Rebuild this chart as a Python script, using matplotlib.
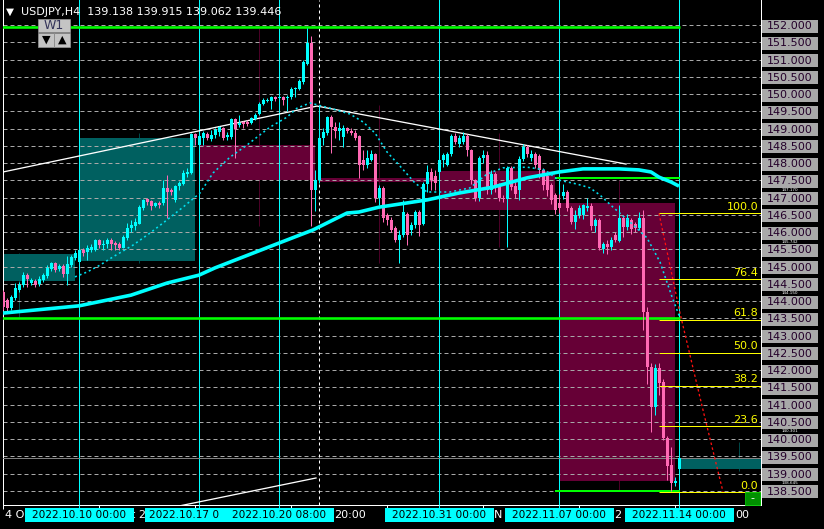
import matplotlib
matplotlib.use('Agg')
import matplotlib.pyplot as plt
from matplotlib.patches import Rectangle
import numpy as np

plt.rcParams['font.family'] = ['DejaVu Sans']
plt.rcParams['lines.scale_dashes'] = False

# ---------------- data ----------------
symbol = 'USDJPY,H4'
first_bar = -19  # bar index of the left-most candle (bar 0 = 2022.10.10 00:00)

bar_open = [
    144.26, 144.03, 143.80, 144.09, 144.32, 144.46, 144.75, 144.52, 144.58, 144.49,
    144.61, 144.73, 144.93, 145.10, 144.93, 145.01, 144.78, 145.04, 145.25, 145.13,
    145.48, 145.42, 145.48, 145.48, 145.77, 145.62, 145.65, 145.77, 145.68, 145.65,
    145.54, 145.83, 146.12, 146.17, 146.23, 146.70, 146.96, 146.90, 146.75, 146.84,
    146.84, 147.28, 147.22, 146.93, 147.33, 147.39, 147.68, 147.71, 148.84, 148.52,
    148.72, 148.84, 148.70, 148.81, 148.90, 149.01, 148.75, 148.75, 149.28, 149.10,
    149.19, 149.19, 149.16, 149.28, 149.42, 149.71, 149.80, 149.80, 149.91, 149.88,
    149.91, 149.88, 149.91, 150.15, 150.15, 150.35, 150.87, 151.48, 147.22, 147.51,
    148.72, 148.87, 149.33, 149.04, 148.93, 148.75, 149.01, 148.93, 148.87, 148.78,
    148.09, 147.94, 148.09, 148.26, 146.99, 147.28, 146.49, 146.35, 146.12, 145.77,
    145.91, 146.52, 146.06, 146.20, 146.58, 146.23, 147.39, 147.74, 147.62, 147.74,
    148.09, 147.94, 148.26, 148.78, 148.55, 148.61, 148.78, 148.38, 147.51, 146.99,
    148.14, 148.23, 147.22, 147.68, 147.36, 146.99, 146.96, 147.86, 147.33, 147.22,
    148.12, 148.46, 148.14, 148.26, 148.20, 147.80, 147.62, 147.36, 147.07, 146.83,
    147.04, 147.16, 146.70, 146.29, 146.49, 146.49, 146.70, 146.75, 146.17, 146.35,
    145.51, 145.65, 145.57, 145.91, 145.74, 146.41, 146.14, 146.35, 146.23, 146.12,
    146.41, 143.68, 142.09, 140.93, 142.06, 141.65, 140.03, 139.25, 138.73, 139.138,
]
bar_high = [
    144.32, 144.09, 144.17, 144.52, 144.55, 144.84, 144.81, 144.67, 144.64, 144.72,
    144.81, 145.04, 145.13, 145.13, 145.07, 145.07, 145.30, 145.33, 145.48, 145.54,
    145.54, 145.62, 145.65, 145.80, 145.80, 145.77, 145.83, 145.83, 145.74, 145.71,
    145.91, 146.26, 146.35, 146.41, 146.78, 146.96, 146.99, 146.93, 146.87, 146.90,
    147.51, 147.65, 147.28, 147.36, 147.48, 147.80, 147.86, 148.87, 148.87, 148.87,
    148.93, 148.90, 148.96, 149.01, 149.07, 149.04, 148.90, 149.30, 149.30, 149.39,
    149.22, 149.25, 149.33, 149.45, 149.77, 149.88, 149.88, 149.94, 149.94, 149.97,
    149.94, 149.97, 150.20, 150.20, 150.44, 150.99, 151.91, 151.68, 147.80, 149.68,
    149.01, 149.36, 149.39, 149.19, 149.19, 149.10, 149.04, 149.01, 148.96, 148.81,
    148.38, 148.38, 148.38, 148.29, 147.36, 147.33, 146.55, 146.43, 146.17, 146.06,
    146.93, 146.58, 146.29, 146.64, 146.64, 147.45, 147.94, 147.86, 147.80, 148.12,
    148.29, 148.32, 148.84, 148.87, 148.81, 148.90, 148.84, 148.41, 147.54, 148.20,
    148.38, 148.35, 147.80, 147.74, 147.42, 147.07, 147.91, 147.91, 147.45, 148.20,
    148.55, 148.52, 148.38, 148.32, 148.26, 147.86, 147.68, 147.42, 147.13, 147.10,
    147.39, 147.22, 146.75, 146.64, 146.78, 146.81, 146.99, 146.84, 146.41, 146.41,
    145.71, 145.77, 145.86, 146.00, 146.78, 146.49, 146.52, 146.41, 146.29, 146.58,
    146.64, 143.83, 142.20, 142.18, 142.20, 141.74, 140.09, 139.77, 138.90, 139.915,
]
bar_low = [
    143.74, 143.71, 143.74, 144.03, 144.26, 144.41, 144.41, 144.46, 144.41, 144.43,
    144.55, 144.67, 144.87, 144.84, 144.87, 144.70, 144.46, 144.99, 145.19, 145.10,
    145.30, 145.19, 145.42, 145.45, 145.54, 145.48, 145.54, 145.48, 145.48, 145.48,
    145.54, 145.77, 146.00, 146.06, 146.23, 146.64, 146.78, 146.64, 146.72, 146.70,
    146.78, 146.41, 147.07, 146.87, 147.22, 147.36, 147.59, 147.68, 148.52, 148.49,
    148.52, 148.67, 148.64, 148.72, 148.78, 148.67, 148.67, 148.70, 148.14, 149.04,
    149.01, 149.07, 149.13, 149.25, 149.39, 149.68, 149.77, 149.57, 149.80, 149.83,
    149.68, 149.51, 149.86, 149.91, 150.12, 150.29, 150.84, 146.17, 146.61, 147.42,
    148.52, 148.81, 148.29, 148.72, 148.67, 148.46, 148.87, 148.81, 148.67, 147.57,
    147.80, 147.86, 148.06, 146.87, 146.78, 146.29, 146.20, 146.00, 145.71, 145.10,
    145.86, 145.62, 145.91, 146.12, 145.88, 146.20, 147.16, 147.22, 147.22, 147.68,
    147.88, 147.90, 148.20, 148.55, 148.46, 148.55, 148.20, 147.39, 146.90, 146.90,
    148.00, 147.10, 147.10, 147.16, 146.90, 146.87, 145.57, 147.22, 146.99, 146.93,
    148.06, 148.17, 148.06, 147.86, 147.57, 147.22, 147.04, 146.81, 146.52, 146.55,
    146.96, 146.61, 146.23, 146.09, 146.41, 146.38, 146.61, 146.06, 146.00, 145.48,
    145.39, 145.36, 145.48, 145.71, 145.71, 145.86, 146.06, 145.94, 146.00, 146.06,
    143.16, 141.60, 140.20, 140.70, 141.27, 139.97, 138.81, 138.50, 138.64, 139.062,
]
bar_close = [
    143.83, 143.80, 144.12, 144.38, 144.46, 144.75, 144.64, 144.61, 144.46, 144.64,
    144.75, 144.96, 145.10, 144.90, 145.01, 144.78, 145.07, 145.28, 145.39, 145.48,
    145.39, 145.54, 145.57, 145.77, 145.62, 145.65, 145.77, 145.65, 145.62, 145.54,
    145.86, 146.12, 146.20, 146.29, 146.72, 146.93, 146.87, 146.75, 146.84, 146.78,
    147.28, 147.16, 147.16, 147.33, 147.42, 147.71, 147.74, 148.84, 148.72, 148.78,
    148.87, 148.72, 148.81, 148.96, 149.04, 148.72, 148.81, 149.28, 148.99, 149.16,
    149.13, 149.13, 149.30, 149.39, 149.71, 149.83, 149.83, 149.91, 149.86, 149.91,
    149.83, 149.91, 150.15, 150.17, 150.38, 150.93, 151.48, 147.22, 147.51, 148.72,
    148.90, 149.33, 149.04, 148.93, 149.01, 149.01, 148.93, 148.87, 148.72, 147.94,
    147.94, 148.14, 148.26, 146.99, 147.28, 146.41, 146.35, 146.06, 145.77, 145.91,
    146.58, 145.91, 146.20, 146.58, 146.20, 147.39, 147.74, 147.51, 147.42, 148.09,
    148.23, 148.26, 148.78, 148.61, 148.72, 148.78, 148.38, 147.51, 146.99, 148.14,
    148.23, 147.22, 147.68, 147.36, 146.99, 146.96, 147.86, 147.30, 147.10, 148.12,
    148.46, 148.26, 148.26, 147.94, 147.80, 147.36, 147.22, 146.93, 146.64, 146.70,
    147.16, 146.70, 146.29, 146.49, 146.70, 146.78, 146.75, 146.17, 146.35, 145.54,
    145.65, 145.57, 145.77, 145.77, 146.41, 146.14, 146.41, 146.09, 146.12, 146.41,
    143.68, 142.09, 140.93, 142.06, 141.62, 140.03, 139.22, 138.73, 138.78, 139.446,
]

# weekly open/close boxes and high/low lines
week_start = [-30, 0, 30, 60, 90, 120, 150]
week_open = [144.58, 145.16, 148.52, 147.57, 147.77, 146.83, 139.138]
week_close = [145.36, 148.72, 147.51, 147.45, 146.64, 138.78, 139.446]
week_high = [145.39, 148.87, 151.91, 149.68, 148.87, 147.51, 139.915]
week_low = [143.54, 145.10, 146.17, 145.10, 145.57, 138.50, 139.062]

# thick moving average
ma_bar = [-19, 0, 13, 22, 30, 34, 50, 58.5, 67, 70, 75, 87, 95, 103.5, 112, 120,
          126, 135, 140, 143, 145, 148, 150]
ma_val = [143.65, 143.86, 144.17, 144.52, 144.75, 144.96, 145.68, 146.06, 146.55, 146.58,
          146.72, 146.93, 147.13, 147.30, 147.57, 147.74, 147.83, 147.83, 147.80, 147.74,
          147.59, 147.45, 147.33]

# dotted fast average
dot_bar = [-1, 2, 5.25, 8.5, 13.5, 17.75, 22, 26, 30.25, 33.5, 37.75, 42, 44.5, 47.75,
           52, 54.5, 57.75, 62.75, 67.75, 71, 74, 77, 80.25, 84, 87, 92.75, 97.75, 102,
           106, 112, 116.5, 119.75, 124.5, 127.75, 130.25, 133.5, 137.75, 142, 145.25,
           148.25, 150.25]
dot_val = [144.70, 144.84, 145.04, 145.28, 145.62, 145.97, 146.35, 146.72, 147.13, 147.71,
           148.17, 148.52, 148.75, 149.04, 149.33, 149.59, 149.74, 149.59, 149.42, 149.19,
           148.87, 148.32, 147.91, 147.42, 147.16, 147.16, 147.28, 147.68, 147.86, 147.88,
           147.80, 147.51, 147.39, 147.28, 147.07, 146.72, 146.29, 145.83, 145.13, 144.12,
           143.51]

trend_bar = [-19, 59.5, 136.75]
trend_val = [147.74, 149.65, 147.97]
chan_bar = [20, 59.25]
chan_val = [137.94, 138.87]
proj_bar = [145, 150.25, 156, 161]
proj_val = [146.54, 143.65, 140.84, 138.47]

green_level = [151.94, 143.51, 147.56, 138.50]
green_start = [-19.5, -19.5, 119, 119]
green_end = 150.25

fib_high, fib_low = 146.54, 138.46
fib_pct = [0.0, 23.6, 38.2, 50.0, 61.8, 76.4, 100.0]
fib_start = 145

vline_bars = [0, 30, 50, 90, 120, 150]
vline_labels = ['2022.10.10 00:00', '2022.10.17 0', '2022.10.20 08:00',
                '2022.10.31 00:00', '2022.11.07 00:00', '2022.11.14 00:00']
dash_vline_bar = 60
tick_bars = [-19, 5, 29, 53, 77, 101, 125, 149]
# visible remnants of the time-axis labels (the rest lies under the cyan labels)
axis_frag_text = ['4 O', 't 2', '20:00', 'N', '2', '00']
axis_frag_bar = [-18.5, 12.9, 63.75, 103.75, 133.75, 164.0]
price_ticks = [138.5, 139.0, 139.5, 140.0, 140.5, 141.0, 141.5, 142.0, 142.5, 143.0,
               143.5, 144.0, 144.5, 145.0, 145.5, 146.0, 146.5, 147.0, 147.5, 148.0,
               148.5, 149.0, 149.5, 150.0, 150.5, 151.0, 151.5, 152.0]
bid = 139.446
# object price labels peeking out between the grey price boxes
hidden_labels = [147.170, 145.742, 144.150, 140.301, 138.645]

# ---------------- styles / layout ----------------
CYAN = '#00ffff'
PINK = '#ff69b4'
TEAL_BOX = '#006060'
MAROON_BOX = '#660036'
GRID = '#a8a8a8'

W, H = 824, 529
PX_L, PX_R, PX_B = 2.5, 760.5, 505.0
BAR_X0, BAR_W = 79.0, 4.0
PRICE_AT_TOP, PX_PER_UNIT = 152.725, 34.5
PT = 0.72  # points per pixel

fig = plt.figure(figsize=(W / 100, H / 100), dpi=100)
fig.patch.set_facecolor('black')

ax = fig.add_axes([PX_L / W, 1 - PX_B / H, (PX_R - PX_L) / W, PX_B / H])
ax.set_facecolor('black')
xlim = ((PX_L - BAR_X0) / BAR_W, (PX_R - BAR_X0) / BAR_W)
ylim = (PRICE_AT_TOP - PX_B / PX_PER_UNIT, PRICE_AT_TOP)
ax.set_xlim(*xlim)
ax.set_ylim(*ylim)

# grid
for p in price_ticks:
    ax.axhline(p, color=GRID, lw=1 * PT, dashes=(4 * PT, 3 * PT), zorder=2)

# weekly boxes + high/low lines
for s, o, c, hi, lo in zip(week_start, week_open, week_close, week_high, week_low):
    up = c >= o
    ax.vlines(s + 15, lo, hi, color='#004848' if up else '#4a0026', lw=1 * PT, zorder=0.8)
    ax.add_patch(Rectangle((s, min(o, c)), 29, abs(c - o), facecolor=TEAL_BOX if up else MAROON_BOX,
                           lw=0, zorder=1))

# vertical lines
for b in vline_bars:
    ax.axvline(b, color=CYAN, lw=1 * PT, zorder=3)
ax.axvline(dash_vline_bar, color='white', lw=1 * PT, dashes=(3 * PT, 3 * PT), zorder=3)

# bid line
ax.axhline(bid, color='#808080', lw=1 * PT, zorder=3)

# green horizontal lines
for i, (lvl, s) in enumerate(zip(green_level, green_start)):
    ax.hlines(lvl, s, green_end, color='#00ff00', lw=(2.6 if i < 2 else 2.0) * PT, zorder=4)

# trend lines
ax.plot(trend_bar, trend_val, color='white', lw=1.3 * PT, zorder=4)
ax.plot(chan_bar, chan_val, color='white', lw=1.3 * PT, zorder=4)

# candles
bars = np.arange(first_bar, first_bar + len(bar_open))
o = np.array(bar_open); hi = np.array(bar_high); lo = np.array(bar_low); c = np.array(bar_close)
cols = np.where(c >= o, CYAN, PINK)
ax.vlines(bars, lo, hi, colors=cols, lw=1 * PT, zorder=5)
body_lo = np.minimum(o, c)
body_h = np.maximum(np.abs(c - o), 1.0 / PX_PER_UNIT)
ax.bar(bars, body_h, bottom=body_lo, width=0.75, color=cols, lw=0, zorder=5)

# averages
ax.plot(ma_bar, ma_val, color=CYAN, lw=3.6 * PT, zorder=6, solid_capstyle='butt')
ax.plot(dot_bar, dot_val, color='#00e0f0', lw=1.6 * PT, dashes=(2 * PT, 3 * PT), zorder=6)

# projection
ax.plot(proj_bar, proj_val, color='#ff1010', lw=1.3 * PT, dashes=(2.5 * PT, 2.5 * PT), zorder=6)

# fibonacci
label_x = (758 - BAR_X0) / BAR_W
for pct in fib_pct:
    lvl = fib_low + (fib_high - fib_low) * pct / 100
    ax.hlines(lvl, fib_start, xlim[1], color='#ffff00', lw=1 * PT, zorder=7)
    ax.text(label_x, lvl + 1.5 / PX_PER_UNIT, f'{pct:.1f}', color='#ffff00', fontsize=8,
            ha='right', va='bottom', zorder=8)

# spines / ticks
for side in ('left', 'right', 'bottom'):
    ax.spines[side].set_color('white')
    ax.spines[side].set_linewidth(1 * PT)
ax.spines['top'].set_visible(False)
ax.set_xticks(tick_bars)
ax.set_yticks(price_ticks)
ax.tick_params(axis='x', colors='white', length=4 * PT, width=1 * PT, labelbottom=False)
ax.tick_params(axis='y', colors='white', length=3 * PT, width=1 * PT, left=False, right=True,
               labelleft=False, labelright=False)

# right price axis (labels in grey boxes)
ax2 = fig.add_axes([762 / W, 1 - PX_B / H, 56 / W, PX_B / H])
ax2.set_xlim(0, 1)
ax2.set_ylim(*ylim)
ax2.axis('off')
box_h = 13 / PX_PER_UNIT
for p in price_ticks:
    yc = p - 1 / PX_PER_UNIT
    ax2.add_patch(Rectangle((0, yc - box_h / 2), 1, box_h, facecolor='#a9a9a9', lw=0, zorder=2))
    ax2.text(0.5, yc, f'{p:.3f}', color='#24002a', fontsize=8, ha='center', va='center', zorder=3)
# small white labels squeezed into the gaps between the boxes
for p in hidden_labels:
    gap = round((p - 0.25) * 2) / 2 + 0.25 - 1 / PX_PER_UNIT
    ax2.text(0.5, gap, f'{p:.3f}', color='white', fontsize=3.0, ha='center', va='center', zorder=1)

# bottom time axis
ax3 = fig.add_axes([PX_L / W, 0, (PX_R - PX_L) / W, (H - PX_B) / H])
ax3.set_xlim(*xlim)
ax3.set_ylim(H - PX_B, 0)
ax3.axis('off')
for b in vline_bars:
    ax3.vlines(b, 0, 3, color=CYAN, lw=1 * PT)
for b, t in zip(axis_frag_bar, axis_frag_text):
    ax3.text(b, 10.5, t, color='white', fontsize=8, ha='left', va='center', zorder=1)
BOX_BARS = 27.25
for b, t in zip(vline_bars, vline_labels):
    ax3.add_patch(Rectangle((b - BOX_BARS / 2, 2.5), BOX_BARS, 14.5, facecolor=CYAN, lw=0, zorder=2))
    if t.endswith('00'):
        ax3.text(b, 10.2, t, color='black', fontsize=7.6, ha='center', va='center', zorder=3)
    else:
        ax3.text(b - BOX_BARS / 2 + 1.2, 10.2, t, color='black', fontsize=7.6, ha='left',
                 va='center', zorder=3)

# header
fig.text(6 / W, 1 - 11.5 / H, '\u25bc', color='white', fontsize=7.5, ha='left', va='center')
fig.text(21 / W, 1 - 12 / H,
         f'{symbol}  {bar_open[-1]:.3f} {bar_high[-1]:.3f} {bar_low[-1]:.3f} {bar_close[-1]:.3f}',
         color='white', fontsize=8, ha='left', va='center')

# W1 button
def fig_rect(x0, y0, x1, y1, **kw):
    fig.add_artist(Rectangle((x0 / W, 1 - y1 / H), (x1 - x0) / W, (y1 - y0) / H,
                             transform=fig.transFigure, **kw))

fig_rect(38, 19, 70, 32, facecolor='#c4c4c4', edgecolor='#8c8c8c', lw=0.6)
fig.text(54 / W, 1 - 25.5 / H, 'W1', color='#34345a', fontsize=9, ha='center', va='center')
fig_rect(38, 33, 54, 47, facecolor='#c4c4c4', edgecolor='#8c8c8c', lw=0.6)
fig_rect(54, 33, 70, 47, facecolor='#c4c4c4', edgecolor='#8c8c8c', lw=0.6)
fig.text(46 / W, 1 - 40 / H, '\u25bc', color='black', fontsize=8, ha='center', va='center')
fig.text(62 / W, 1 - 40 / H, '\u25b2', color='black', fontsize=8, ha='center', va='center')

# small green button bottom-right
fig_rect(745, 492, 760, 505, facecolor='#009000', edgecolor='#00c800', lw=0.6)
fig.text(752.5 / W, 1 - 498 / H, '-', color='white', fontsize=8, ha='center', va='center')

fig.savefig('out.png', dpi=100, facecolor='black')
